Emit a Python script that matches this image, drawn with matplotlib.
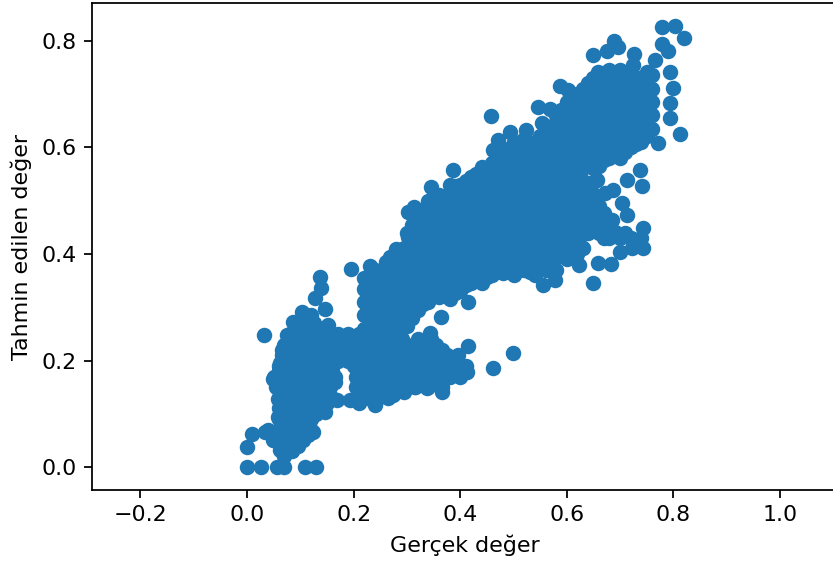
import matplotlib
matplotlib.use("Agg")
import matplotlib.pyplot as plt

# points on the edge of the cloud, read one by one
edge_x = [0.0, 0.027, 0.056, 0.07, 0.108, 0.13, 0.0, 0.009, 0.033, 0.031,
          0.137, 0.139, 0.128, 0.146, 0.103, 0.152, 0.195, 0.231, 0.268, 0.302, 0.302, 0.313,
          0.415, 0.364, 0.343, 0.415, 0.499, 0.461, 0.413, 0.366, 0.338, 0.315, 0.274, 0.24, 0.21, 0.193,
          0.169, 0.146, 0.124, 0.058, 0.058, 0.049, 0.062, 0.066, 0.075, 0.086, 0.062, 0.07, 0.049,
          0.458, 0.546, 0.568, 0.553, 0.587, 0.602, 0.649, 0.675, 0.689, 0.696, 0.659, 0.726, 0.724,
          0.765, 0.779, 0.803, 0.82, 0.779, 0.79, 0.794, 0.8, 0.794, 0.794, 0.812, 0.771, 0.737, 0.741,
          0.713, 0.687, 0.657, 0.647, 0.672, 0.704, 0.713, 0.685, 0.743, 0.743, 0.722, 0.70, 0.683, 0.659,
          0.649, 0.623, 0.578, 0.555, 0.531, 0.493, 0.523, 0.471, 0.461, 0.441, 0.591, 0.386, 0.345]
edge_y = [0.0, 0.0, 0.0, 0.0, 0.0, 0.0, 0.038, 0.063, 0.065, 0.247,
          0.356, 0.336, 0.318, 0.297, 0.291, 0.267, 0.372, 0.377, 0.395, 0.432, 0.479, 0.488,
          0.31, 0.282, 0.252, 0.227, 0.214, 0.186, 0.178, 0.141, 0.148, 0.15, 0.135, 0.116, 0.12, 0.126,
          0.126, 0.103, 0.066, 0.094, 0.128, 0.165, 0.195, 0.22, 0.248, 0.272, 0.032, 0.02, 0.05,
          0.659, 0.676, 0.672, 0.646, 0.716, 0.708, 0.774, 0.781, 0.8, 0.789, 0.742, 0.776, 0.755,
          0.764, 0.826, 0.828, 0.806, 0.794, 0.781, 0.742, 0.712, 0.684, 0.655, 0.625, 0.608, 0.558, 0.528,
          0.539, 0.52, 0.539, 0.515, 0.515, 0.496, 0.473, 0.464, 0.449, 0.411, 0.411, 0.404, 0.381, 0.383,
          0.346, 0.379, 0.351, 0.342, 0.366, 0.629, 0.633, 0.614, 0.595, 0.563, 0.648, 0.558, 0.526]

# left cluster, one row of x values for each y
low_y = [0.03, 0.05, 0.07, 0.09, 0.11, 0.13, 0.15, 0.17, 0.19, 0.21, 0.23, 0.25, 0.27, 0.285,
         0.04, 0.06, 0.08, 0.10, 0.12, 0.14, 0.16, 0.18, 0.20, 0.22, 0.24, 0.26]
low_x = [[0.065, 0.085],
         [0.05, 0.07, 0.09, 0.105],
         [0.04, 0.06, 0.08, 0.1, 0.12],
         [0.06, 0.08, 0.1, 0.12],
         [0.06, 0.08, 0.1, 0.12, 0.14],
         [0.06, 0.08, 0.1, 0.12, 0.14, 0.16],
         [0.055, 0.075, 0.095, 0.115, 0.135, 0.155],
         [0.05, 0.07, 0.09, 0.11, 0.13, 0.15, 0.165],
         [0.06, 0.08, 0.1, 0.12, 0.14, 0.16],
         [0.065, 0.085, 0.105, 0.125, 0.145, 0.165, 0.185],
         [0.07, 0.09, 0.11, 0.13, 0.15, 0.17, 0.19, 0.21],
         [0.08, 0.1, 0.12, 0.15, 0.17, 0.19, 0.21],
         [0.09, 0.11, 0.125],
         [0.105, 0.12],
         [0.075, 0.095],
         [0.06, 0.08, 0.1, 0.115],
         [0.07, 0.09, 0.11],
         [0.07, 0.09, 0.11, 0.13],
         [0.07, 0.09, 0.11, 0.13, 0.15],
         [0.07, 0.09, 0.11, 0.13, 0.15],
         [0.065, 0.085, 0.105, 0.125, 0.145, 0.165],
         [0.06, 0.08, 0.1, 0.12, 0.14, 0.16],
         [0.07, 0.09, 0.11, 0.13, 0.15, 0.17, 0.19],
         [0.075, 0.095, 0.115, 0.135, 0.155, 0.175, 0.195],
         [0.08, 0.1, 0.12, 0.14, 0.16, 0.18, 0.2],
         [0.09, 0.11, 0.13]]

# lower lobe under the main band
lobe_y = [0.13, 0.15, 0.17, 0.19, 0.21, 0.23, 0.14, 0.16, 0.18, 0.20, 0.22, 0.24]
lobe_x = [[0.205, 0.225, 0.245, 0.265],
          [0.205, 0.225, 0.245, 0.265, 0.285, 0.315, 0.34, 0.365],
          [0.205, 0.23, 0.255, 0.28, 0.305, 0.33, 0.355, 0.38, 0.4],
          [0.2, 0.225, 0.25, 0.275, 0.3, 0.325, 0.35, 0.375, 0.4, 0.41],
          [0.2, 0.225, 0.25, 0.275, 0.3, 0.325, 0.35, 0.375, 0.395],
          [0.2, 0.225, 0.25, 0.275, 0.3, 0.33, 0.355],
          [0.215, 0.235, 0.255, 0.275, 0.295],
          [0.215, 0.24, 0.265, 0.29, 0.31, 0.33, 0.355],
          [0.215, 0.24, 0.265, 0.29, 0.315, 0.34, 0.365, 0.39],
          [0.21, 0.235, 0.26, 0.285, 0.31, 0.335, 0.36, 0.385],
          [0.21, 0.235, 0.26, 0.285, 0.31, 0.34, 0.365],
          [0.21, 0.235, 0.26, 0.29, 0.32, 0.345]]

# main band, one column of y values for each x
band_x = [0.22, 0.24, 0.26, 0.28, 0.30, 0.32, 0.34, 0.36, 0.38, 0.40, 0.42, 0.44, 0.46, 0.48,
          0.50, 0.52, 0.54, 0.56, 0.58, 0.60, 0.62, 0.64, 0.66, 0.68, 0.70, 0.72, 0.74, 0.76]
band_y = [[0.26, 0.285, 0.31, 0.335, 0.355],
          [0.25, 0.275, 0.3, 0.325, 0.35, 0.37],
          [0.24, 0.265, 0.29, 0.315, 0.34, 0.365, 0.385],
          [0.25, 0.275, 0.3, 0.325, 0.35, 0.375, 0.4, 0.41],
          [0.265, 0.29, 0.315, 0.34, 0.365, 0.39, 0.415, 0.44],
          [0.295, 0.32, 0.345, 0.37, 0.395, 0.42, 0.445, 0.47, 0.48],
          [0.31, 0.335, 0.36, 0.385, 0.41, 0.435, 0.46, 0.485, 0.5],
          [0.32, 0.345, 0.37, 0.395, 0.42, 0.445, 0.47, 0.495, 0.51],
          [0.315, 0.34, 0.365, 0.39, 0.415, 0.44, 0.465, 0.49, 0.515, 0.53],
          [0.33, 0.355, 0.38, 0.405, 0.43, 0.455, 0.48, 0.505, 0.53],
          [0.345, 0.37, 0.395, 0.42, 0.445, 0.47, 0.495, 0.52, 0.545],
          [0.345, 0.37, 0.395, 0.42, 0.445, 0.47, 0.495, 0.52, 0.545, 0.56],
          [0.36, 0.385, 0.41, 0.435, 0.46, 0.485, 0.51, 0.535, 0.56, 0.57],
          [0.365, 0.39, 0.415, 0.44, 0.465, 0.49, 0.515, 0.54, 0.565, 0.585],
          [0.36, 0.385, 0.41, 0.435, 0.46, 0.485, 0.51, 0.535, 0.56, 0.585, 0.61],
          [0.37, 0.395, 0.42, 0.445, 0.47, 0.495, 0.52, 0.545, 0.57, 0.595, 0.615],
          [0.36, 0.385, 0.41, 0.435, 0.46, 0.485, 0.51, 0.535, 0.56, 0.585, 0.61],
          [0.37, 0.395, 0.42, 0.445, 0.47, 0.495, 0.52, 0.545, 0.57, 0.595, 0.62, 0.64],
          [0.37, 0.395, 0.42, 0.445, 0.47, 0.495, 0.52, 0.545, 0.57, 0.595, 0.62, 0.645, 0.66],
          [0.39, 0.415, 0.44, 0.465, 0.49, 0.515, 0.54, 0.565, 0.59, 0.615, 0.64, 0.665, 0.685],
          [0.4, 0.425, 0.45, 0.475, 0.5, 0.525, 0.55, 0.575, 0.6, 0.625, 0.65, 0.675, 0.7],
          [0.44, 0.465, 0.49, 0.515, 0.575, 0.6, 0.625, 0.65, 0.675, 0.7, 0.72],
          [0.44, 0.465, 0.49, 0.565, 0.59, 0.615, 0.64, 0.665, 0.69, 0.715, 0.735],
          [0.43, 0.455, 0.58, 0.605, 0.63, 0.655, 0.68, 0.705, 0.73, 0.745],
          [0.43, 0.58, 0.605, 0.63, 0.655, 0.68, 0.705, 0.73, 0.745],
          [0.43, 0.6, 0.625, 0.65, 0.675, 0.7, 0.725, 0.745],
          [0.43, 0.61, 0.635, 0.66, 0.685, 0.71, 0.73],
          [0.635, 0.66, 0.685, 0.71, 0.735]]

# second layer of the band, between the columns above
fill_x = [0.23, 0.25, 0.27, 0.29, 0.31, 0.33, 0.35, 0.37, 0.39, 0.41, 0.43, 0.45, 0.47, 0.49,
          0.51, 0.53, 0.55, 0.57, 0.59, 0.61, 0.63, 0.65, 0.67, 0.69, 0.71, 0.73, 0.75]
fill_y = [[0.27, 0.297, 0.322, 0.347],
          [0.262, 0.287, 0.312, 0.337, 0.36],
          [0.252, 0.277, 0.302, 0.327, 0.352, 0.377],
          [0.262, 0.287, 0.312, 0.337, 0.362, 0.387, 0.41],
          [0.28, 0.302, 0.327, 0.352, 0.377, 0.402, 0.427, 0.455],
          [0.307, 0.332, 0.357, 0.382, 0.407, 0.432, 0.457, 0.482],
          [0.322, 0.347, 0.372, 0.397, 0.422, 0.447, 0.472, 0.497],
          [0.332, 0.357, 0.382, 0.407, 0.432, 0.457, 0.482, 0.507],
          [0.327, 0.352, 0.377, 0.402, 0.427, 0.452, 0.477, 0.502, 0.527],
          [0.342, 0.367, 0.392, 0.417, 0.442, 0.467, 0.492, 0.517, 0.537],
          [0.357, 0.382, 0.407, 0.432, 0.457, 0.482, 0.507, 0.532, 0.55],
          [0.357, 0.382, 0.407, 0.432, 0.457, 0.482, 0.507, 0.532, 0.552],
          [0.372, 0.397, 0.422, 0.447, 0.472, 0.497, 0.522, 0.547, 0.572],
          [0.375, 0.402, 0.427, 0.452, 0.477, 0.502, 0.527, 0.552, 0.577, 0.597],
          [0.382, 0.407, 0.432, 0.457, 0.482, 0.507, 0.532, 0.557, 0.582, 0.605],
          [0.382, 0.407, 0.432, 0.457, 0.482, 0.507, 0.532, 0.557, 0.582, 0.607],
          [0.372, 0.397, 0.422, 0.447, 0.472, 0.497, 0.522, 0.547, 0.572, 0.597, 0.622],
          [0.382, 0.407, 0.432, 0.457, 0.482, 0.507, 0.532, 0.557, 0.582, 0.607, 0.632],
          [0.402, 0.427, 0.452, 0.477, 0.502, 0.527, 0.552, 0.577, 0.602, 0.627, 0.652, 0.67],
          [0.402, 0.427, 0.452, 0.477, 0.502, 0.527, 0.552, 0.577, 0.602, 0.627, 0.652, 0.677, 0.69],
          [0.412, 0.437, 0.462, 0.487, 0.512, 0.537, 0.562, 0.587, 0.612, 0.637, 0.662, 0.687, 0.71],
          [0.452, 0.477, 0.5, 0.535, 0.562, 0.587, 0.612, 0.637, 0.662, 0.687, 0.712, 0.73],
          [0.43, 0.452, 0.477, 0.577, 0.602, 0.627, 0.652, 0.677, 0.702, 0.727, 0.74],
          [0.442, 0.592, 0.617, 0.642, 0.667, 0.692, 0.717, 0.74],
          [0.44, 0.592, 0.617, 0.642, 0.667, 0.692, 0.717, 0.74],
          [0.425, 0.607, 0.632, 0.657, 0.682, 0.707, 0.73],
          [0.622, 0.647, 0.672, 0.697, 0.722, 0.742]]

gercek = list(edge_x)
tahmin = list(edge_y)
for y, row in zip(low_y, low_x):
    gercek += row
    tahmin += [y] * len(row)
for y, row in zip(lobe_y, lobe_x):
    gercek += row
    tahmin += [y] * len(row)
for x, col in zip(band_x, band_y):
    gercek += [x] * len(col)
    tahmin += col
for x, col in zip(fill_x, fill_y):
    gercek += [x] * len(col)
    tahmin += col

fig = plt.figure(figsize=(833 / 159, 569 / 159), dpi=159)
ax = fig.add_axes([92 / 833, 1 - 490 / 569, 745 / 833, 487 / 569])
ax.scatter(gercek, tahmin)
ax.set_xlim(-0.291, 1.107)
ax.set_ylim(-0.043, 0.871)
ax.set_xticks([-0.2, 0.0, 0.2, 0.4, 0.6, 0.8, 1.0])
ax.set_yticks([0.0, 0.2, 0.4, 0.6, 0.8])
ax.set_xlabel("Gerçek değer")
ax.set_ylabel("Tahmin edilen değer")
fig.savefig("out.png", dpi=159)
